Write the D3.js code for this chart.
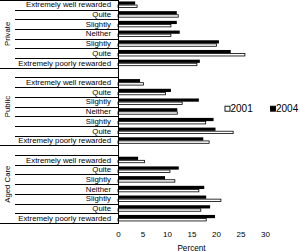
<!DOCTYPE html>
<html><head><meta charset="utf-8">
<script src="https://cdn.jsdelivr.net/npm/d3@7"></script>
<style>body{margin:0;background:#fff}svg{display:block}text{font-family:"Liberation Sans",Arial,sans-serif;fill:#000}</style>
</head><body><svg id="c" width="300" height="251"></svg>
<script>
const groups = ["Private", "Public", "Aged Care"];
const categories = ["Extremely well rewarded", "Quite", "Slightly", "Neither", "Slightly", "Quite", "Extremely poorly rewarded"];
const seriesNames = ["2001", "2004"];
const private2001 = [3.9, 12.3, 10.8, 10.8, 20.1, 25.9, 16.1];
const private2004 = [3.5, 12.0, 12.0, 12.6, 20.6, 23.0, 16.7];
const public2001 = [5.2, 9.7, 13.1, 12.1, 17.9, 23.5, 18.6];
const public2004 = [4.5, 10.8, 16.5, 12.1, 19.5, 19.9, 17.4];
const aged2001 = [5.4, 10.6, 11.6, 16.5, 21.0, 16.9, 18.0];
const aged2004 = [4.1, 12.4, 9.6, 17.6, 18.0, 18.8, 19.8];
const xTicks = [0, 5, 10, 15, 20, 25, 30];
const axisTitle = "Percent";

const seriesByGroup = {
  "Private": {"2001": private2001, "2004": private2004},
  "Public": {"2001": public2001, "2004": public2004},
  "Aged Care": {"2001": aged2001, "2004": aged2004}
};

const svg = d3.select("#c");
const plotLeft = 118, plotRight = 265, plotTop = -0.2, plotBottom = 223;
const catLineX = 15;

// rows top to bottom; every group after the first has a blank slot at its top
const rows = [];
groups.forEach((g, gi) => {
  if (gi > 0) rows.push({key: g + "|blank", group: g, label: "", idx: -1});
  categories.forEach((c, ci) => rows.push({key: g + "|" + ci, group: g, label: c, idx: ci}));
});

const x = d3.scaleLinear().domain([0, 30]).range([plotLeft, plotRight]);
const y = d3.scaleBand().domain(rows.map(r => r.key)).range([plotTop, plotBottom])
  .paddingInner(0.34).paddingOuter(0.17);
const ySub = d3.scaleBand().domain(["2004", "2001"]).range([0, y.bandwidth()]);

// bars
const barData = [];
rows.filter(r => r.idx >= 0).forEach(r => {
  seriesNames.forEach(s => barData.push({row: r, series: s, value: seriesByGroup[r.group][s][r.idx]}));
});
svg.append("g").selectAll("rect").data(barData).join("rect")
  .attr("x", x(0))
  .attr("y", d => y(d.row.key) + ySub(d.series) + (d.series === "2001" ? 0.4 : 0))
  .attr("width", d => x(d.value) - x(0))
  .attr("height", d => ySub.bandwidth() - (d.series === "2001" ? 0.8 : 0))
  .attr("fill", d => d.series === "2004" ? "#000" : "#fff")
  .attr("stroke", d => d.series === "2001" ? "#000" : "none")
  .attr("stroke-width", 0.8);

// category boundary lines
const step = y.step();
const boundaries = d3.range(rows.length + 1).map(i => {
  const isGroup = i === 0 || i === rows.length || (rows[i] && rows[i].idx === -1);
  return {y: plotTop + i * step, group: isGroup};
});
svg.append("g").selectAll("line").data(boundaries).join("line")
  .attr("x1", d => d.group ? 0 : catLineX).attr("x2", plotLeft)
  .attr("y1", d => Math.round(d.y) + 0.5).attr("y2", d => Math.round(d.y) + 0.5)
  .attr("stroke", "#000").attr("stroke-width", 1);

// vertical axis line
svg.append("line").attr("x1", plotLeft + 0.5).attr("x2", plotLeft + 0.5)
  .attr("y1", plotTop).attr("y2", Math.round(plotBottom) + 1)
  .attr("stroke", "#000");

// category labels
svg.append("g").selectAll("text").data(rows.filter(r => r.idx >= 0)).join("text")
  .attr("x", 111).attr("y", r => y(r.key) + y.bandwidth() / 2)
  .attr("dy", "0.35em").attr("text-anchor", "end")
  .attr("font-size", 7.8).text(r => r.label);

// group labels
groups.forEach((g, gi) => {
  const gRows = rows.filter(r => r.group === g);
  const y0 = y(gRows[0].key) - y.paddingOuter() * step;
  const y1 = y(gRows[gRows.length - 1].key) + y.bandwidth() + y.paddingOuter() * step;
  const cy = (y0 + y1) / 2;
  svg.append("text").attr("transform", `translate(9.5,${cy}) rotate(-90)`)
    .attr("text-anchor", "middle").attr("font-size", 7.8).text(g);
});

// x axis
const xAxis = svg.append("g").attr("transform", `translate(0,${plotBottom})`)
  .call(d3.axisBottom(x).tickValues(xTicks).tickSize(0).tickPadding(8.5));
xAxis.select(".domain").remove();
xAxis.selectAll("text").attr("font-size", 8).attr("font-family", '"Liberation Sans",Arial,sans-serif');

svg.append("text").attr("x", (plotLeft + plotRight) / 2).attr("y", 250.5)
  .attr("text-anchor", "middle").attr("font-size", 8.2).text(axisTitle);

// legend
const legendX = [224.5, 270];
const leg = svg.append("g").selectAll("g").data(seriesNames).join("g")
  .attr("transform", (d, i) => `translate(${legendX[i]},108.7)`);
leg.append("rect").attr("x", 0.5).attr("y", -2.5).attr("width", 5).attr("height", 5)
  .attr("fill", d => d === "2004" ? "#000" : "#fff").attr("stroke", "#000").attr("stroke-width", 0.9);
leg.append("text").attr("x", 6).attr("dy", "0.36em").attr("font-size", 10).text(d => d);
</script></body></html>
